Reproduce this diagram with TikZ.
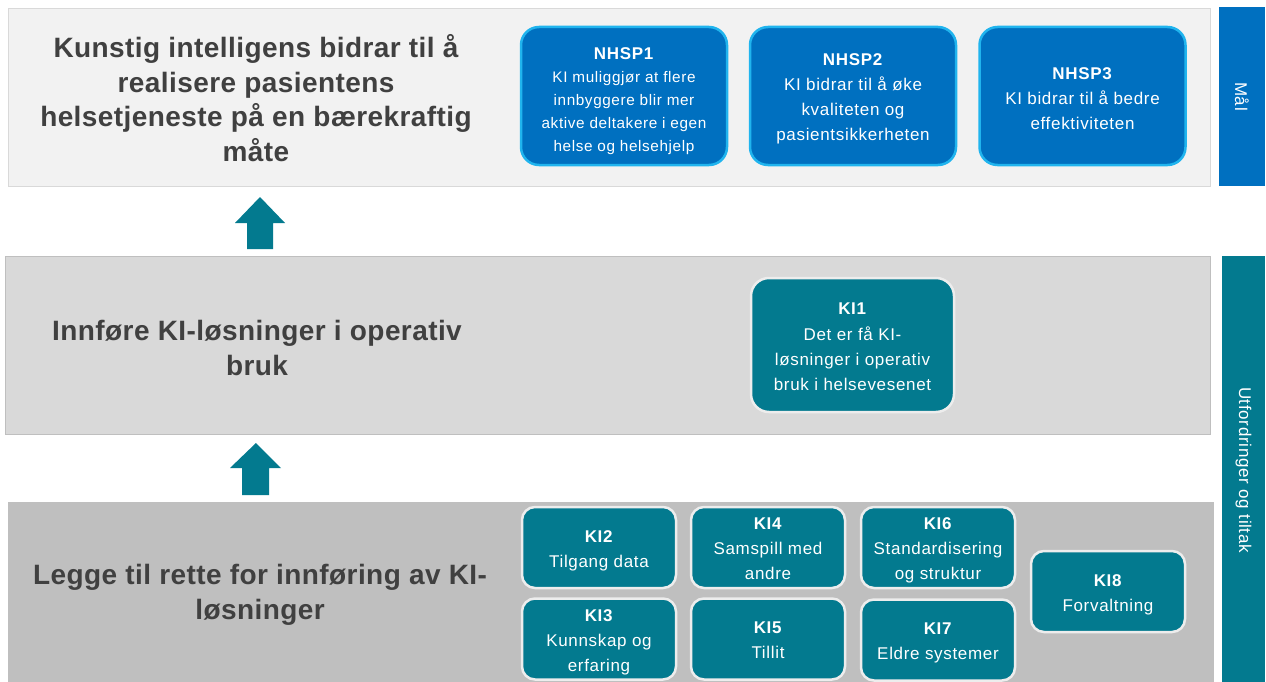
\documentclass[tikz,border=0pt]{standalone}
\usepackage{fontspec}
\setmainfont{Liberation Sans}
\newfontfamily\titlefont{Liberation Sans}[LetterSpace=1.5]
\newfontfamily\boxfont{Liberation Sans}[LetterSpace=4]
\usetikzlibrary{positioning}

\definecolor{goalblue}{HTML}{0070C0}
\definecolor{goalrim}{HTML}{20B4EE}
\definecolor{kiteal}{RGB}{3,122,143}
\definecolor{kirim}{HTML}{EDEDED}
\definecolor{bandA}{HTML}{F2F2F2}
\definecolor{bandB}{HTML}{D9D9D9}
\definecolor{bandC}{HTML}{BFBFBF}
\definecolor{titlegray}{HTML}{404040}

% bold box heading with a tall strut, and a fixed-depth strut for the last line,
% so that all box texts sit at the same height whatever their letters
\newcommand\kihead[2][18pt]{\rule{0pt}{#1}\textbf{#2}}
\newcommand\kitail{\rule[-4pt]{0pt}{4pt}}

\tikzset{
  band/.style={rectangle, inner sep=0pt, outer sep=0pt},
  bandtitle/.style={align=center, text=titlegray,
    font=\titlefont\bfseries\fontsize{28}{34.7}\selectfont},
  goalbox/.style={rectangle, rounded corners=18pt, fill=goalblue, draw=goalrim,
    line width=2.5pt, minimum width=206pt, minimum height=138pt, inner sep=0pt,
    text=white, align=center},
  kibig/.style={rectangle, rounded corners=18pt, fill=kiteal, draw=kirim,
    line width=2.5pt, minimum width=203pt, minimum height=134pt, inner sep=0pt,
    text=white, align=center, font=\boxfont\fontsize{17}{25}\selectfont},
  kibox/.style={rectangle, rounded corners=13pt, fill=kiteal, draw=kirim,
    line width=2.5pt, minimum width=154pt, minimum height=81pt, inner sep=0pt,
    text=white, align=center, font=\boxfont\fontsize{17}{25}\selectfont},
  sidebar/.style={rectangle, inner sep=0pt, outer sep=0pt},
  sidelabel/.style={rotate=-90, text=white, font=\boxfont\fontsize{17}{20}\selectfont},
  uparrow/.style={fill=kiteal}
}

\begin{document}
\begin{tikzpicture}[x=1pt, y=-1pt]
\useasboundingbox (0,0) rectangle (1266,682);
\fill[white] (0,0) rectangle (1266,682);

% the three horizontal bands
\node[band, fill=bandA, draw=bandB, line width=1pt,
      minimum width=1202pt, minimum height=177pt] (goalband) at (609,97.5) {};
\node[band, fill=bandB, draw=bandC, line width=1pt,
      minimum width=1205pt, minimum height=178pt] (useband) at (607.5,345) {};
\node[band, fill=bandC, draw=bandC, line width=1pt,
      minimum width=1205pt, minimum height=184pt] (prepband) at (610.5,594) {};

% band headings
\node[bandtitle] (goaltitle) at (256,98)
  {Kunstig intelligens bidrar til å\\realisere pasientens\\helsetjeneste på en bærekraftig\\måte};
\node[bandtitle] (usetitle) at (257,348) {Innføre KI-løsninger i operativ\\bruk};
\node[bandtitle] (preptitle) at (260,594.5) {Legge til rette for innføring av KI-\\løsninger};

% upward block arrows between the bands
\fill[uparrow] (247,249) -- (247,223) -- (235,223) -- (260,197) -- (285,223)
  -- (273,223) -- (273,249) -- cycle;
\fill[uparrow] (242,495) -- (242,468) -- (230,468) -- (256,443) -- (281,468)
  -- (269,468) -- (269,495) -- cycle;

% goals
\node[goalbox, font=\boxfont\fontsize{15.3}{23}\selectfont] (nhsp1) at (624,96)
  {\kihead[23pt]{\fontsize{17}{23}\selectfont NHSP1}\\KI muliggjør at flere\\innbyggere blir mer\\aktive deltakere i egen\\helse og helsehjelp\kitail};
\node[goalbox, font=\boxfont\fontsize{17}{25}\selectfont] (nhsp2) at (853,96)
  {\kihead{NHSP2}\\KI bidrar til å øke\\kvaliteten og\\pasientsikkerheten\kitail};
\node[goalbox, font=\boxfont\fontsize{17}{25}\selectfont] (nhsp3) at (1082.5,96)
  {\kihead[22pt]{NHSP3}\\KI bidrar til å bedre\\effektiviteten\kitail};

% challenge in operational use
\node[kibig] (ki1) at (852.5,345)
  {\kihead{KI1}\\[1pt]Det er få KI-\\løsninger i operativ\\bruk i helsevesenet\kitail};

% enabling challenges
\node[kibox] (ki2) at (599,547.5) {\kihead{KI2}\\Tilgang data\kitail};
\node[kibox] (ki4) at (768,547.5) {\kihead{KI4}\\Samspill med\\andre\kitail};
\node[kibox] (ki6) at (938,547.5) {\kihead{KI6}\\Standardisering\\og struktur\kitail};
\node[kibox] (ki3) at (599,639) {\kihead{KI3}\\Kunnskap og\\erfaring\kitail};
\node[kibox] (ki5) at (768,639) {\kihead{KI5}\\Tillit\kitail};
\node[kibox] (ki7) at (938,640) {\kihead{KI7}\\Eldre systemer\kitail};
\node[kibox] (ki8) at (1108,591.5) {\kihead{KI8}\\Forvaltning\kitail};

% side labels
\node[sidebar, fill=goalblue, minimum width=46pt, minimum height=179pt] (malbar) at (1242,96.5) {};
\node[sidelabel] (mallabel) at (malbar.center) {Mål};
\node[sidebar, fill=kiteal, minimum width=43pt, minimum height=430pt] (tiltakbar) at (1243.5,471) {};
\node[sidelabel] (tiltaklabel) at (1243.5,470) {Utfordringer og tiltak};
\end{tikzpicture}
\end{document}
